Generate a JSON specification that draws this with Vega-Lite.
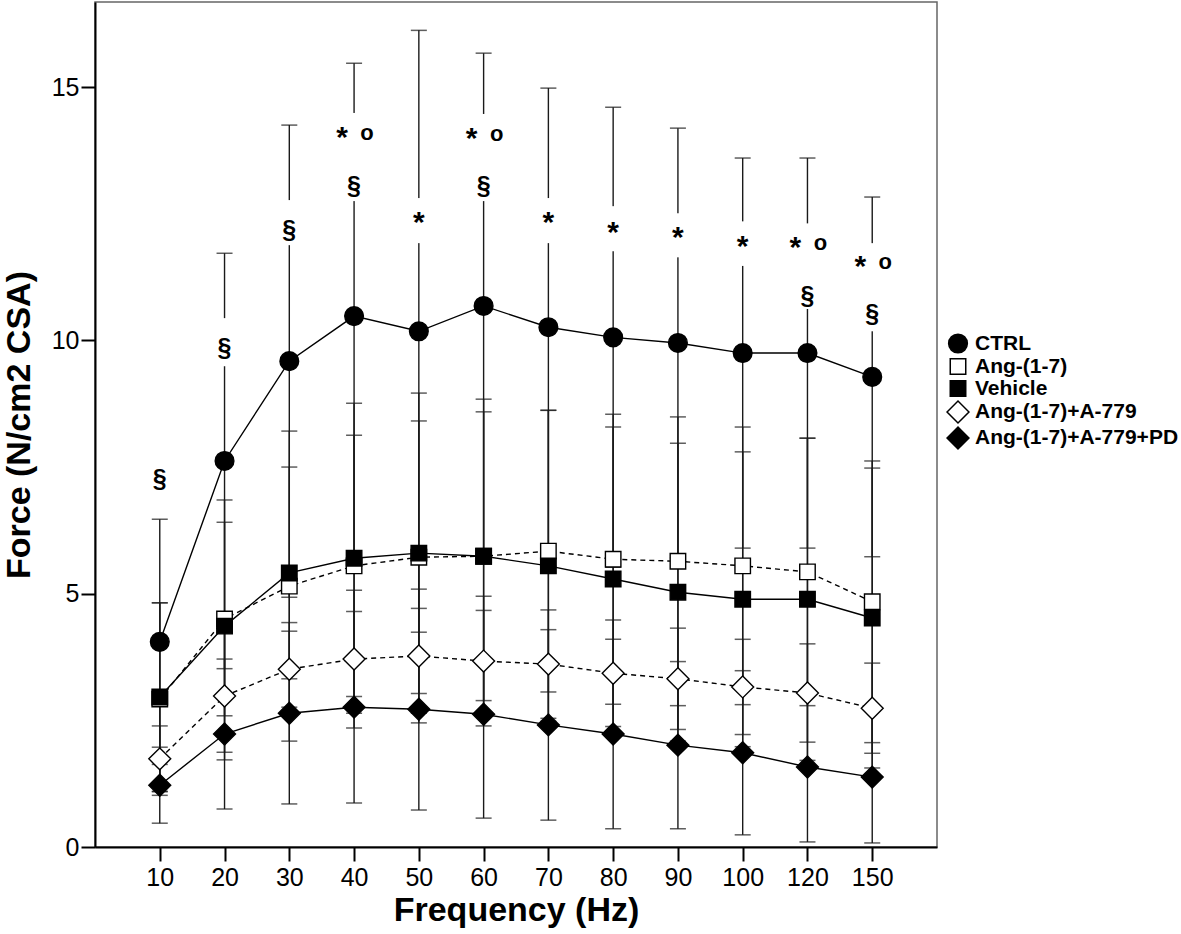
{
  "$schema": "https://vega.github.io/schema/vega-lite/v6.json",
  "width": 842,
  "height": 845,
  "autosize": {"type": "none"},
  "padding": {"left": 95, "top": 2, "right": 244, "bottom": 87},
  "background": "white",
  "config": {
    "view": {"stroke": "#666666", "strokeWidth": 1.5},
    "font": "Liberation Sans",
    "axis": {
      "labelFont": "Liberation Sans",
      "titleFont": "Liberation Sans",
      "labelColor": "black",
      "titleColor": "black",
      "domainColor": "black",
      "tickColor": "black",
      "domainWidth": 2,
      "tickWidth": 2,
      "tickSize": 14,
      "grid": false,
      "labelFontSize": 25,
      "titleFontWeight": "bold"
    },
    "legend": {
      "labelFont": "Liberation Sans",
      "labelFontSize": 21,
      "labelFontWeight": "bold",
      "labelColor": "black",
      "symbolStrokeColor": "black",
      "symbolStrokeWidth": 1.5,
      "labelOffset": 5,
      "rowPadding": -7,
      "labelLimit": 400
    }
  },
  "datasets": {
    "main": [
      {"f":10,"g":"CTRL","m":4.05,"lo":1.63,"hi":6.47},
      {"f":20,"g":"CTRL","m":7.62,"lo":3.52,"hi":11.72},
      {"f":30,"g":"CTRL","m":9.59,"lo":4.93,"hi":14.25},
      {"f":40,"g":"CTRL","m":10.48,"lo":5.49,"hi":15.47},
      {"f":50,"g":"CTRL","m":10.18,"lo":4.24,"hi":16.12},
      {"f":60,"g":"CTRL","m":10.68,"lo":5.69,"hi":15.67},
      {"f":70,"g":"CTRL","m":10.26,"lo":5.54,"hi":14.98},
      {"f":80,"g":"CTRL","m":10.06,"lo":5.52,"hi":14.60},
      {"f":90,"g":"CTRL","m":9.95,"lo":5.71,"hi":14.19},
      {"f":100,"g":"CTRL","m":9.75,"lo":5.90,"hi":13.60},
      {"f":120,"g":"CTRL","m":9.75,"lo":5.90,"hi":13.60},
      {"f":150,"g":"CTRL","m":9.28,"lo":5.73,"hi":12.83},
      {"f":10,"g":"Ang-(1-7)","m":2.92,"lo":1.02,"hi":4.82},
      {"f":20,"g":"Ang-(1-7)","m":4.50,"lo":2.59,"hi":6.41},
      {"f":30,"g":"Ang-(1-7)","m":5.15,"lo":2.09,"hi":8.21},
      {"f":40,"g":"Ang-(1-7)","m":5.55,"lo":2.97,"hi":8.13},
      {"f":50,"g":"Ang-(1-7)","m":5.72,"lo":3.03,"hi":8.41},
      {"f":60,"g":"Ang-(1-7)","m":5.74,"lo":2.89,"hi":8.59},
      {"f":70,"g":"Ang-(1-7)","m":5.84,"lo":3.06,"hi":8.62},
      {"f":80,"g":"Ang-(1-7)","m":5.68,"lo":2.82,"hi":8.54},
      {"f":90,"g":"Ang-(1-7)","m":5.64,"lo":2.79,"hi":8.49},
      {"f":100,"g":"Ang-(1-7)","m":5.55,"lo":2.81,"hi":8.29},
      {"f":120,"g":"Ang-(1-7)","m":5.43,"lo":2.79,"hi":8.07},
      {"f":150,"g":"Ang-(1-7)","m":4.84,"lo":2.06,"hi":7.62},
      {"f":10,"g":"Vehicle","m":2.96,"lo":1.10,"hi":4.82},
      {"f":20,"g":"Vehicle","m":4.36,"lo":1.87,"hi":6.85},
      {"f":30,"g":"Vehicle","m":5.41,"lo":3.32,"hi":7.50},
      {"f":40,"g":"Vehicle","m":5.70,"lo":2.64,"hi":8.76},
      {"f":50,"g":"Vehicle","m":5.80,"lo":2.64,"hi":8.96},
      {"f":60,"g":"Vehicle","m":5.74,"lo":2.64,"hi":8.84},
      {"f":70,"g":"Vehicle","m":5.55,"lo":2.48,"hi":8.62},
      {"f":80,"g":"Vehicle","m":5.29,"lo":2.29,"hi":8.29},
      {"f":90,"g":"Vehicle","m":5.03,"lo":2.09,"hi":7.97},
      {"f":100,"g":"Vehicle","m":4.89,"lo":1.98,"hi":7.80},
      {"f":120,"g":"Vehicle","m":4.89,"lo":1.71,"hi":8.07},
      {"f":150,"g":"Vehicle","m":4.52,"lo":1.56,"hi":7.48},
      {"f":10,"g":"Ang-(1-7)+A-779","m":1.74,"lo":1.09,"hi":2.39},
      {"f":20,"g":"Ang-(1-7)+A-779","m":2.98,"lo":1.72,"hi":4.24},
      {"f":30,"g":"Ang-(1-7)+A-779","m":3.51,"lo":2.76,"hi":4.26},
      {"f":40,"g":"Ang-(1-7)+A-779","m":3.71,"lo":2.35,"hi":5.07},
      {"f":50,"g":"Ang-(1-7)+A-779","m":3.77,"lo":2.45,"hi":5.09},
      {"f":60,"g":"Ang-(1-7)+A-779","m":3.67,"lo":2.39,"hi":4.95},
      {"f":70,"g":"Ang-(1-7)+A-779","m":3.61,"lo":2.54,"hi":4.68},
      {"f":80,"g":"Ang-(1-7)+A-779","m":3.43,"lo":2.38,"hi":4.48},
      {"f":90,"g":"Ang-(1-7)+A-779","m":3.32,"lo":2.32,"hi":4.32},
      {"f":100,"g":"Ang-(1-7)+A-779","m":3.16,"lo":2.22,"hi":4.10},
      {"f":120,"g":"Ang-(1-7)+A-779","m":3.04,"lo":2.07,"hi":4.01},
      {"f":150,"g":"Ang-(1-7)+A-779","m":2.74,"lo":1.85,"hi":3.63},
      {"f":10,"g":"Ang-(1-7)+A-779+PD","m":1.22,"lo":0.47,"hi":1.97},
      {"f":20,"g":"Ang-(1-7)+A-779+PD","m":2.23,"lo":0.75,"hi":3.71},
      {"f":30,"g":"Ang-(1-7)+A-779+PD","m":2.64,"lo":0.85,"hi":4.43},
      {"f":40,"g":"Ang-(1-7)+A-779+PD","m":2.76,"lo":0.87,"hi":4.65},
      {"f":50,"g":"Ang-(1-7)+A-779+PD","m":2.72,"lo":0.73,"hi":4.71},
      {"f":60,"g":"Ang-(1-7)+A-779+PD","m":2.62,"lo":0.57,"hi":4.67},
      {"f":70,"g":"Ang-(1-7)+A-779+PD","m":2.41,"lo":0.53,"hi":4.29},
      {"f":80,"g":"Ang-(1-7)+A-779+PD","m":2.23,"lo":0.36,"hi":4.10},
      {"f":90,"g":"Ang-(1-7)+A-779+PD","m":2.01,"lo":0.36,"hi":3.66},
      {"f":100,"g":"Ang-(1-7)+A-779+PD","m":1.86,"lo":0.24,"hi":3.48},
      {"f":120,"g":"Ang-(1-7)+A-779+PD","m":1.58,"lo":0.10,"hi":3.06},
      {"f":150,"g":"Ang-(1-7)+A-779+PD","m":1.38,"lo":0.08,"hi":2.68}
    ],
    "gaps": [
      {"f":20,"a":9.49,"b":10.44},
      {"f":30,"a":11.88,"b":12.77},
      {"f":40,"a":12.75,"b":14.49},
      {"f":50,"a":11.92,"b":12.81},
      {"f":60,"a":12.75,"b":14.47},
      {"f":70,"a":11.92,"b":12.81},
      {"f":80,"a":11.76,"b":12.65},
      {"f":90,"a":11.64,"b":12.51},
      {"f":100,"a":11.47,"b":12.35},
      {"f":120,"a":10.62,"b":12.31},
      {"f":150,"a":10.18,"b":11.92}
    ],
    "notes": [
      {"f":10,"t":"§","v":7.26},
      {"f":20,"t":"§","v":9.85},
      {"f":30,"t":"§","v":12.18},
      {"f":40,"t":"*o","v":14.07},
      {"f":40,"t":"§","v":13.05},
      {"f":50,"t":"*","v":12.39},
      {"f":60,"t":"*o","v":14.05},
      {"f":60,"t":"§","v":13.05},
      {"f":70,"t":"*","v":12.39},
      {"f":80,"t":"*","v":12.2},
      {"f":90,"t":"*","v":12.1},
      {"f":100,"t":"*","v":11.92},
      {"f":120,"t":"*o","v":11.9},
      {"f":120,"t":"§","v":10.87},
      {"f":150,"t":"*o","v":11.53},
      {"f":150,"t":"§","v":10.52}
    ]
  },
  "encoding": {
    "x": {
      "field": "f",
      "type": "ordinal",
      "sort": [10,20,30,40,50,60,70,80,90,100,120,150],
      "scale": {"type": "point", "padding": 1.14},
      "axis": {
        "title": "Frequency (Hz)",
        "titleFontSize": 34,
        "titlePadding": 3,
        "labelPadding": 4,
        "labelAngle": 0
      }
    }
  },
  "layer": [
    {
      "data": {"name": "main"},
      "mark": {"type": "rule", "stroke": "#1a1a1a", "strokeWidth": 1.4},
      "encoding": {
        "y": {"field": "lo", "type": "quantitative", "title": "Force (N/cm2 CSA)",
              "scale": {"domain": [0, 16.68], "nice": false, "zero": true},
              "axis": {"values": [0,5,10,15], "titleFontSize": 34, "titlePadding": 15, "labelPadding": 2}},
        "y2": {"field": "hi"}
      }
    },
    {
      "data": {"name": "main"},
      "mark": {"type": "tick", "color": "#1a1a1a", "size": 16, "thickness": 1.5},
      "encoding": {
        "y": {"field": "lo", "type": "quantitative", "title": "Force (N/cm2 CSA)"}
      }
    },
    {
      "data": {"name": "main"},
      "mark": {"type": "tick", "color": "#1a1a1a", "size": 16, "thickness": 1.5},
      "encoding": {
        "y": {"field": "hi", "type": "quantitative", "title": "Force (N/cm2 CSA)"}
      }
    },
    {
      "data": {"name": "gaps"},
      "mark": {"type": "rule", "stroke": "white", "strokeWidth": 6},
      "encoding": {
        "y": {"field": "a", "type": "quantitative", "title": "Force (N/cm2 CSA)"},
        "y2": {"field": "b"}
      }
    },
    {
      "data": {"name": "main"},
      "transform": [{"filter": "datum.g === 'CTRL' || datum.g === 'Vehicle' || datum.g === 'Ang-(1-7)+A-779+PD'"}],
      "mark": {"type": "line", "color": "black", "strokeWidth": 1.4},
      "encoding": {
        "y": {"field": "m", "type": "quantitative", "title": "Force (N/cm2 CSA)"},
        "detail": {"field": "g"}
      }
    },
    {
      "data": {"name": "main"},
      "transform": [{"filter": "datum.g === 'Ang-(1-7)' || datum.g === 'Ang-(1-7)+A-779'"}],
      "mark": {"type": "line", "color": "black", "strokeWidth": 1.4, "strokeDash": [5, 4]},
      "encoding": {
        "y": {"field": "m", "type": "quantitative", "title": "Force (N/cm2 CSA)"},
        "detail": {"field": "g"}
      }
    },
    {
      "data": {"name": "main"},
      "mark": {"type": "point", "filled": true, "strokeWidth": 1.4, "opacity": 1},
      "encoding": {
        "y": {"field": "m", "type": "quantitative", "title": "Force (N/cm2 CSA)"},
        "shape": {
          "field": "g", "type": "nominal",
          "scale": {
            "type": "ordinal",
            "domain": ["CTRL", "Ang-(1-7)", "Vehicle", "Ang-(1-7)+A-779", "Ang-(1-7)+A-779+PD"],
            "range": ["circle", "square", "square", "diamond", "diamond"]
          },
          "legend": {"title": null, "orient": "none", "legendX": 851, "legendY": 331}
        },
        "fill": {
          "field": "g", "type": "nominal",
          "scale": {
            "type": "ordinal",
            "domain": ["CTRL", "Ang-(1-7)", "Vehicle", "Ang-(1-7)+A-779", "Ang-(1-7)+A-779+PD"],
            "range": ["black", "white", "black", "white", "black"]
          },
          "legend": {"title": null, "orient": "none", "legendX": 851, "legendY": 331}
        },
        "stroke": {
          "field": "g", "type": "nominal",
          "scale": {
            "type": "ordinal",
            "domain": ["CTRL", "Ang-(1-7)", "Vehicle", "Ang-(1-7)+A-779", "Ang-(1-7)+A-779+PD"],
            "range": ["black", "black", "black", "black", "black"]
          },
          "legend": {"title": null, "orient": "none", "legendX": 851, "legendY": 331}
        },
        "size": {
          "field": "g", "type": "nominal",
          "scale": {
            "type": "ordinal",
            "domain": ["CTRL", "Ang-(1-7)", "Vehicle", "Ang-(1-7)+A-779", "Ang-(1-7)+A-779+PD"],
            "range": [350, 240, 240, 480, 480]
          },
          "legend": {"title": null, "orient": "none", "legendX": 851, "legendY": 331}
        }
      }
    },
    {
      "data": {"name": "notes"},
      "transform": [{"filter": "datum.t === '§'"}],
      "mark": {"type": "text", "fontSize": 25, "fontWeight": "bold", "font": "Liberation Sans", "color": "black", "baseline": "middle", "align": "center"},
      "encoding": {
        "y": {"field": "v", "type": "quantitative", "title": "Force (N/cm2 CSA)"},
        "text": {"field": "t"}
      }
    },
    {
      "data": {"name": "notes"},
      "transform": [{"filter": "datum.t === '*'"}],
      "mark": {"type": "text", "fontSize": 30, "fontWeight": "bold", "font": "Liberation Sans", "color": "black", "baseline": "middle", "align": "center", "dy": 4},
      "encoding": {
        "y": {"field": "v", "type": "quantitative", "title": "Force (N/cm2 CSA)"},
        "text": {"value": "*"}
      }
    },
    {
      "data": {"name": "notes"},
      "transform": [{"filter": "datum.t === '*o'"}],
      "mark": {"type": "text", "fontSize": 30, "fontWeight": "bold", "font": "Liberation Sans", "color": "black", "baseline": "middle", "align": "center", "dy": 4, "dx": -12},
      "encoding": {
        "y": {"field": "v", "type": "quantitative", "title": "Force (N/cm2 CSA)"},
        "text": {"value": "*"}
      }
    },
    {
      "data": {"name": "notes"},
      "transform": [{"filter": "datum.t === '*o'"}],
      "mark": {"type": "text", "fontSize": 22, "fontWeight": "bold", "font": "Liberation Sans", "color": "black", "baseline": "middle", "align": "center", "dx": 13, "dy": -1},
      "encoding": {
        "y": {"field": "v", "type": "quantitative", "title": "Force (N/cm2 CSA)"},
        "text": {"value": "o"}
      }
    }
  ]
}
